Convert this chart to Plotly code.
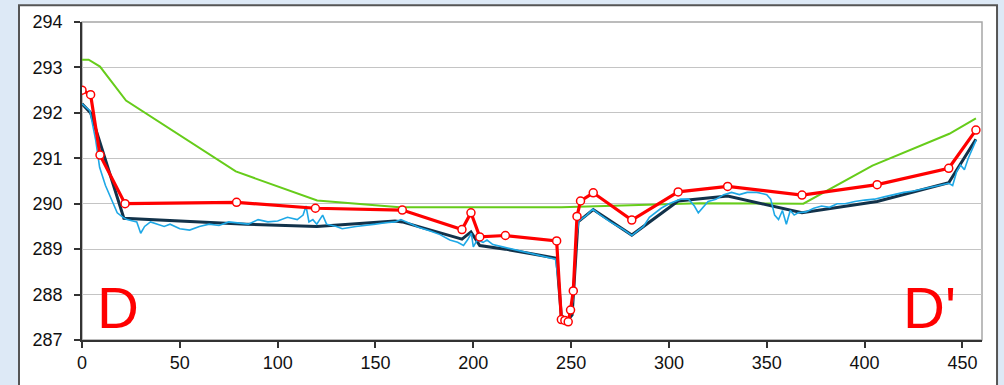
import plotly.graph_objects as go

# ---- data ----
green_x = [0, 3.4, 9.2, 22.5, 78.6, 120.2, 162.4, 245, 315.6, 368.7, 404, 443.3, 456.9]
green_y = [293.17, 293.17, 293.02, 292.27, 290.71, 290.07, 289.92, 289.92, 290.01, 290.0, 290.84, 291.54, 291.88]

red_x = [0, 4.4, 9.2, 22, 79, 119.3, 163.7, 194.2, 198.8, 203.3, 216.4, 242.6, 245, 246.8, 248.5,
         249.7, 251.1, 253, 254.8, 261.3, 281, 304.7, 330, 368, 406.4, 443, 456.9]
red_y = [292.5, 292.4, 291.07, 290.0, 290.03, 289.9, 289.86, 289.43, 289.8, 289.27, 289.3, 289.18, 287.45, 287.43, 287.4,
         287.66, 288.08, 289.72, 290.06, 290.24, 289.64, 290.26, 290.38, 290.19, 290.42, 290.78, 291.62]

navy_x = [0, 4.4, 21.4, 84, 120, 160, 163.7, 194.2, 198.8, 203.3, 216.4, 242.6, 245, 248.5, 250.5,
          253.5, 261.3, 281, 304.7, 330, 368, 406.4, 443, 456.9]
navy_y = [292.2, 292.0, 289.68, 289.55, 289.5, 289.62, 289.6, 289.22, 289.38, 289.08, 289.0, 288.8, 287.52, 287.45, 287.55,
          289.6, 289.87, 289.31, 290.06, 290.17, 289.8, 290.05, 290.46, 291.42]

blue_x = [0, 4, 7, 9, 12, 15, 18, 21, 23, 26, 28, 30, 32, 35, 38, 42, 45, 50, 55, 60, 65, 70, 75, 80, 85, 90,
          95, 100, 105, 110, 113, 114.5, 116, 118, 120, 123, 125, 130, 133, 140, 145, 150, 155, 160, 163, 167,
          172, 178, 183, 188, 192, 195, 197, 199, 200, 202, 205, 207, 210, 215, 220, 230, 242, 243.5, 245,
          246.5, 248, 249.5, 251, 252.5, 254, 258, 261, 265, 270, 276, 281, 284, 287, 290, 293, 296, 300, 303,
          306, 310, 313, 315, 317, 320, 324, 328, 332, 336, 340, 345, 350, 352, 354, 356, 358, 360, 362, 364,
          366, 370, 374, 378, 382, 386, 390, 395, 400, 405, 410, 415, 420, 425, 430, 435, 440, 443, 445, 447,
          449, 451, 453, 455, 457]
blue_y = [292.2, 292.05, 291.4, 290.8, 290.4, 290.1, 289.8, 289.7, 289.65, 289.62, 289.6, 289.35, 289.5, 289.6,
          289.55, 289.5, 289.55, 289.45, 289.42, 289.5, 289.55, 289.52, 289.6, 289.58, 289.55, 289.65, 289.6,
          289.62, 289.7, 289.65, 289.75, 289.95, 289.6, 289.65, 289.55, 289.75, 289.55, 289.5, 289.45, 289.5,
          289.52, 289.55, 289.58, 289.6, 289.65, 289.58, 289.48, 289.4, 289.32, 289.2, 289.15, 289.08, 289.2,
          289.35, 289.05, 289.2, 289.15, 289.2, 289.1, 289.05, 289.0, 288.9, 288.78, 288.3, 287.6, 287.4,
          287.45, 287.55, 287.9, 289.2, 289.62, 289.75, 289.88, 289.75, 289.6, 289.45, 289.3, 289.4, 289.5,
          289.7, 289.8, 289.9, 290.0, 290.05, 290.1, 290.1, 289.95, 289.8, 289.9, 290.05, 290.1, 290.2, 290.25,
          290.2, 290.25, 290.25, 290.2, 290.1, 289.75, 289.65, 289.85, 289.55, 289.85, 289.75, 289.8, 289.82,
          289.9, 289.95, 289.92, 290.0, 290.0, 290.05, 290.08, 290.1, 290.15, 290.2, 290.25, 290.28, 290.33,
          290.38, 290.42, 290.45, 290.4, 290.7, 290.85, 290.75, 291.0, 291.2, 291.4]

x_ticks = [0, 50, 100, 150, 200, 250, 300, 350, 400, 450]
y_ticks = [287, 288, 289, 290, 291, 292, 293, 294]
labels = [("D", 18.5), ("D'", 433)]

fig = go.Figure()
fig.add_trace(go.Scatter(x=green_x, y=green_y, mode="lines", line=dict(color="#66cc1a", width=2), hoverinfo="skip"))
fig.add_trace(go.Scatter(x=navy_x, y=navy_y, mode="lines", line=dict(color="#12324a", width=3), hoverinfo="skip"))
fig.add_trace(go.Scatter(x=blue_x, y=blue_y, mode="lines", line=dict(color="#1ea8e6", width=1.6), hoverinfo="skip"))
fig.add_trace(go.Scatter(x=red_x, y=red_y, mode="lines+markers", line=dict(color="#ff0000", width=3.2),
                         marker=dict(symbol="circle", size=8, color="white", line=dict(color="#ff0000", width=1.5)),
                         hoverinfo="skip"))

for txt, xv in labels:
    fig.add_annotation(x=xv, y=287.72, text=txt, showarrow=False,
                       font=dict(family="Liberation Sans, Arial", size=58, color="#ff0000"))

# outer chart frame
fig.add_shape(type="rect", xref="paper", yref="paper", x0=-0.07, x1=1.0167, y0=-0.3, y1=1.0526,
              line=dict(color="#555555", width=2), fillcolor="white", layer="below")
# plot area frame
fig.add_shape(type="rect", xref="paper", yref="paper", x0=0, x1=1, y0=0, y1=1,
              line=dict(color="#a6a6a6", width=1.5), layer="below")

fig.update_layout(
    width=1004, height=385,
    margin=dict(l=82, r=22, t=21, b=41),
    paper_bgcolor="#dde9f6", plot_bgcolor="white",
    showlegend=False,
    font=dict(family="Liberation Sans, Arial", size=18, color="#111111"),
)
fig.update_xaxes(range=[0, 460], tickvals=x_ticks, showgrid=False, zeroline=False,
                 showline=True, linecolor="#333333", linewidth=1.5,
                 ticks="outside", ticklen=6, tickcolor="#333333", tickwidth=1.5)
fig.update_yaxes(range=[287, 294], tickvals=y_ticks, showgrid=True, gridcolor="#c4c4c4", gridwidth=1.2,
                 zeroline=False, showline=True, linecolor="#333333", linewidth=1.5,
                 ticks="outside", ticklen=6, tickcolor="#333333", tickwidth=1.5,
                 ticklabelstandoff=8)

fig.write_html("out.html")
